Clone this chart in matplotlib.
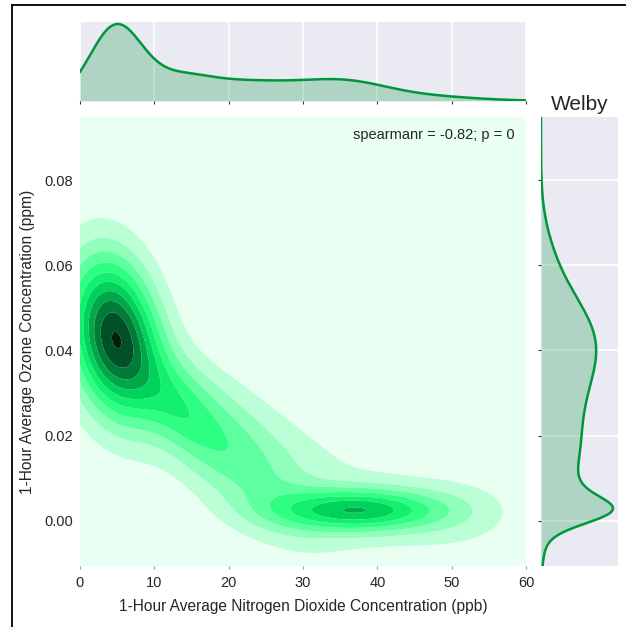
import matplotlib
matplotlib.use("Agg")
import matplotlib.pyplot as plt
from matplotlib.lines import Line2D
import numpy as np

plt.rcParams['font.family'] = ['Liberation Sans', 'DejaVu Sans']

# joint density: gaussian bumps given by peak height
# x = NO2 (ppb), y = O3 (ppm)
bump_h   = [1.00, 0.20, 0.32, 0.63, 0.11, 0.11]
bump_x   = [4.6, 13.0, 19.0, 37.5, 51.0, 32.0]
bump_y   = [0.0435, 0.027, 0.019, 0.0025, 0.002, 0.009]
bump_sx  = [4.2, 3.8, 8.0, 7.5, 6.0, 13.0]
bump_sy  = [0.013, 0.008, 0.0145, 0.0035, 0.006, 0.014]
bump_rho = [-0.2, -0.5, -0.72, 0.0, 0.0, -0.5]

# marginal curves (relative height, centre, spread)
top_h = [0.95, 0.18, 0.26, 0.18, 0.06]
top_c = [4.8, 13.0, 22.0, 36.0, 46.0]
top_s = [3.5, 4.0, 9.0, 5.5, 7.0]
right_h = [0.72, 0.14, 0.46, 0.74, 0.08, 0.08]
right_c = [0.042, 0.028, 0.014, 0.0024, 0.0075, 0.062]
right_s = [0.011, 0.008, 0.010, 0.0031, 0.003, 0.008]

band_colors = ['#e8fff1', '#bbffd6', '#8fffbb', '#5eff9e', '#2eff82', '#12f06d',
               '#00d35b', '#00a848', '#007c36', '#005226', '#001f0c']
line_color = '#00963c'

site = "Welby"
stat_label = "spearmanr = -0.82; p = 0"
x_label = "1-Hour Average Nitrogen Dioxide Concentration (ppb)"
y_label = "1-Hour Average Ozone Concentration (ppm)"
x_ticks = [0, 10, 20, 30, 40, 50, 60]
y_ticks = [0.00, 0.02, 0.04, 0.06, 0.08]
x_lim = (0, 60)
y_lim = (-0.0106, 0.0948)


def dens2d(X, Y):
    Z = np.zeros_like(X)
    for h, cx, cy, sx, sy, r in zip(bump_h, bump_x, bump_y, bump_sx, bump_sy, bump_rho):
        dx = (X - cx) / sx
        dy = (Y - cy) / sy
        q = (dx * dx - 2 * r * dx * dy + dy * dy) / (1 - r * r)
        Z += h * np.exp(-0.5 * q)
    return Z


def curve(v, hs, cs, ss):
    out = np.zeros_like(v)
    for h, c, s in zip(hs, cs, ss):
        out += h * np.exp(-0.5 * ((v - c) / s) ** 2)
    return out


xs = np.linspace(x_lim[0], x_lim[1], 400)
ys = np.linspace(y_lim[0], y_lim[1], 400)
X, Y = np.meshgrid(xs, ys)
Z = dens2d(X, Y)
zmax = Z.max()
step = zmax / 10.1
levels = list(np.arange(11) * step) + [zmax * 1.001]

fig = plt.figure(figsize=(6.26, 6.27), dpi=100)
W, H = 626.0, 627.0
ax = fig.add_axes([80 / W, 1 - 566 / H, 446 / W, 449 / H])
axt = fig.add_axes([80 / W, 1 - 101 / H, 446 / W, 79 / H])
axr = fig.add_axes([541 / W, 1 - 566 / H, 77 / W, 449 / H])

ax.contourf(X, Y, Z, levels=levels, colors=band_colors, antialiased=True)
ax.set_xlim(*x_lim)
ax.set_ylim(*y_lim)
ax.set_xticks(x_ticks)
ax.set_yticks(y_ticks)
ax.set_yticklabels([f"{t:.2f}" for t in y_ticks])
ax.tick_params(axis='x', length=2.5, width=0.8, color='#999999', labelsize=10.5,
               labelcolor='#262626', pad=5)
ax.tick_params(axis='y', length=0, labelsize=10.5, labelcolor='#262626', pad=5)
for s in ax.spines.values():
    s.set_visible(False)
ax.set_xlabel(x_label, fontsize=11.2, color='#262626', labelpad=6)
ax.set_ylabel(y_label, fontsize=11.2, color='#262626', labelpad=7)
ax.text(0.975, 0.976, stat_label, transform=ax.transAxes, ha='right', va='top',
        fontsize=10.5, color='#262626')

# marginals
mx = curve(xs, top_h, top_c, top_s)
my = curve(ys, right_h, right_c, right_s)
bg = '#eaeaf2'
for a in (axt, axr):
    a.set_facecolor(bg)
    for s in a.spines.values():
        s.set_visible(False)
    a.set_axisbelow(True)

axt.fill_between(xs, 0, mx, color=line_color, alpha=0.25, lw=0)
axt.plot(xs, mx, color=line_color, lw=1.8)
axt.set_xlim(*x_lim)
axt.set_ylim(0, mx.max() * 1.026)
axt.set_xticks(x_ticks)
axt.set_yticks([])
axt.grid(axis='x', color='white', lw=1.2)
axt.tick_params(axis='x', length=2, width=0.8, color='#333333', labelbottom=False)

axr.fill_betweenx(ys, 0, my, color=line_color, alpha=0.25, lw=0)
axr.plot(my, ys, color=line_color, lw=1.8)
axr.set_ylim(*y_lim)
axr.set_xlim(0, my.max() * 1.07)
axr.set_yticks(y_ticks)
axr.set_xticks([])
axr.grid(axis='y', color='white', lw=1.2)
axr.tick_params(axis='y', length=2, width=0.8, color='#333333', labelleft=False)
axr.set_title(site, fontsize=15, color='#262626', pad=5)

fig.add_artist(Line2D([11.5 / W, 11.5 / W], [0, 1 - 5 / H], transform=fig.transFigure,
                      color='black', lw=1.3))
fig.add_artist(Line2D([11.5 / W, 1], [1 - 5 / H, 1 - 5 / H], transform=fig.transFigure,
                      color='black', lw=1.3))

fig.savefig("out.png", dpi=100)
